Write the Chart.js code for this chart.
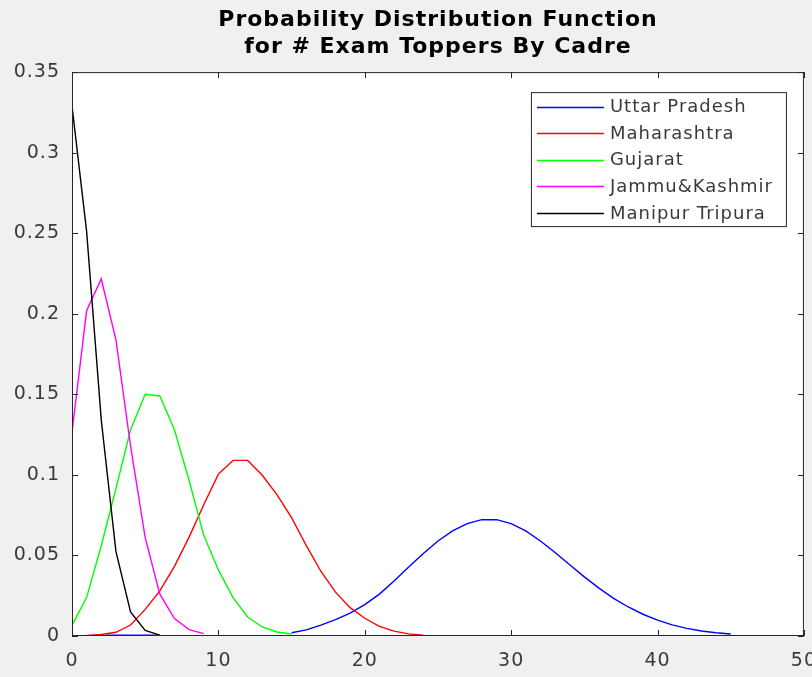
<!DOCTYPE html>
<html>
<head>
<meta charset="utf-8">
<script src="https://cdn.jsdelivr.net/npm/chart.js@4.4.1/dist/chart.umd.min.js"></script>
<style>
  html, body { margin: 0; padding: 0; background: #f0f0f0; overflow: hidden; }
  #wrap { width: 830px; height: 677px; }
</style>
</head>
<body>
<div id="wrap"><canvas id="pdf" width="830" height="677"></canvas></div>
<script>
/* values (points at integer exam-topper counts) */
const names = ['Uttar Pradesh', 'Maharashtra', 'Gujarat', 'Jammu&Kashmir', 'Manipur Tripura'];
const colors = ['#0000ff', '#ff0000', '#00ff00', '#ff00ff', '#000000'];

const upX = [2.3, 5.8, 10, 15, 16, 17, 18, 19, 20, 21, 22, 23, 24, 25, 26, 27, 28, 29, 30,
             31, 32, 33, 34, 35, 36, 37, 38, 39, 40, 41, 42, 43, 44, 45];
const upY = [0.0005, 0.0005, null, 0.002, 0.0038, 0.0068, 0.0102, 0.0142, 0.0195, 0.026, 0.0342,
             0.0428, 0.0512, 0.059, 0.0652, 0.0698, 0.0722, 0.0722, 0.0698, 0.0652, 0.059, 0.0518,
             0.0442, 0.0367, 0.0297, 0.0234, 0.018, 0.0135, 0.0098, 0.0069, 0.0047, 0.0031,
             0.002, 0.0012];

const mhX = [0, 1, 2, 3, 4, 5, 6, 7, 8, 9, 10, 11, 12, 13, 14, 15, 16, 17, 18, 19, 20, 21, 22, 23, 24];
const mhY = [0.0002, 0.0004, 0.0009, 0.0023, 0.0068, 0.0165, 0.028, 0.0432, 0.0614, 0.0815, 0.1005,
             0.109, 0.109, 0.0998, 0.0878, 0.0735, 0.0562, 0.0402, 0.0272, 0.0176, 0.011, 0.006,
             0.003, 0.0013, 0.0005];

const gjX = [0, 1, 2, 3, 4, 5, 6, 7, 8, 9, 10, 11, 12, 13, 14, 15];
const gjY = [0.0066, 0.024, 0.056, 0.0915, 0.128, 0.15, 0.149, 0.128, 0.0965, 0.0625, 0.041,
             0.0238, 0.0118, 0.0056, 0.0025, 0.0012];

const jkX = [0, 1, 2, 3, 4, 5, 6, 7, 8, 9];
const jkY = [0.1265, 0.202, 0.2216, 0.184, 0.118, 0.061, 0.026, 0.0108, 0.004, 0.0015];

const mtX = [0, 1, 2, 3, 4, 5, 6];
const mtY = [0.329, 0.251, 0.134, 0.0525, 0.015, 0.0035, 0.0005];

const xTicks = { min: 0, max: 50, step: 10 };
const yTicks = { min: 0, max: 0.35, step: 0.05 };

const titleLines = ['Probability Distribution Function', 'for # Exam Toppers By Cadre'];

const pts = (xs, ys) => xs.map((x, i) => ({ x, y: ys[i] }));
const allX = [upX, mhX, gjX, jkX, mtX];
const allY = [upY, mhY, gjY, jkY, mtY];

const INK = '#262626';
const TXT = '#3a3a3a';

/* MATLAB-style box: frame, inward ticks on four sides, boxed legend top-right */
const matlabBox = {
  id: 'matlabBox',
  beforeDraw(chart) {
    const { ctx, chartArea: a } = chart;
    ctx.letterSpacing = '1px';
    ctx.save();
    ctx.fillStyle = '#ffffff';
    ctx.fillRect(a.left, a.top, a.right - a.left, a.bottom - a.top);
    ctx.restore();
  },
  afterDatasetsDraw(chart) {
    const { ctx, chartArea: a, scales } = chart;
    ctx.save();
    ctx.strokeStyle = INK;
    ctx.lineWidth = 1;
    ctx.strokeRect(a.left + 0.5, a.top + 0.5, a.right - a.left - 1, a.bottom - a.top - 1);
    const L = 6;
    ctx.beginPath();
    scales.x.ticks.forEach(t => {
      const px = Math.round(scales.x.getPixelForValue(t.value)) + 0.5;
      ctx.moveTo(px, a.bottom); ctx.lineTo(px, a.bottom - L);
      ctx.moveTo(px, a.top); ctx.lineTo(px, a.top + L);
    });
    scales.y.ticks.forEach(t => {
      const py = Math.round(scales.y.getPixelForValue(t.value)) + 0.5;
      ctx.moveTo(a.left, py); ctx.lineTo(a.left + L, py);
      ctx.moveTo(a.right, py); ctx.lineTo(a.right - L, py);
    });
    ctx.stroke();

    // legend box
    const right = a.right - 17, top = a.top + 20, w = 256, rowH = 26.6;
    const left = right - w, h = rowH * names.length + 2;
    ctx.fillStyle = '#ffffff';
    ctx.fillRect(left, top, w, h);
    ctx.strokeStyle = INK;
    ctx.strokeRect(left + 0.5, top + 0.5, w - 1, h - 1);
    ctx.font = '18px "DejaVu Sans"';
    ctx.textBaseline = 'middle';
    ctx.textAlign = 'left';
    chart.data.datasets.forEach((ds, i) => {
      const cy = top + 14.5 + i * rowH;
      ctx.strokeStyle = ds.borderColor;
      ctx.lineWidth = 1.3;
      ctx.beginPath();
      ctx.moveTo(left + 6, Math.round(cy) + 0.5);
      ctx.lineTo(left + 73, Math.round(cy) + 0.5);
      ctx.stroke();
      ctx.fillStyle = TXT;
      ctx.fillText(ds.label, left + 79, cy + 1);
    });
    ctx.restore();
  }
};

new Chart(document.getElementById('pdf'), {
  type: 'line',
  data: {
    datasets: names.map((n, i) => ({
      label: n,
      data: pts(allX[i], allY[i]),
      borderColor: colors[i],
      backgroundColor: colors[i],
      borderWidth: 1.4,
      pointRadius: 0,
      tension: 0,
      spanGaps: false,
      order: names.length - 1 - i
    }))
  },
  options: {
    responsive: false,
    animation: false,
    devicePixelRatio: 1,
    layout: { padding: { left: 0, right: 26, top: 0, bottom: 0 } },
    plugins: {
      legend: { display: false },
      tooltip: { enabled: false },
      title: {
        display: true,
        text: titleLines,
        fullSize: false,
        color: '#000000',
        font: { family: 'DejaVu Sans', size: 22, weight: 'bold', lineHeight: 1.23 },
        padding: { top: 7, bottom: 11 }
      }
    },
    scales: {
      x: {
        type: 'linear',
        min: xTicks.min, max: xTicks.max,
        ticks: { stepSize: xTicks.step, color: TXT, padding: 14,
                 font: { family: 'DejaVu Sans', size: 19 } },
        grid: { display: false, drawTicks: false },
        border: { display: false },
        afterFit: s => { s.height = 41; }
      },
      y: {
        min: yTicks.min, max: yTicks.max,
        ticks: { stepSize: yTicks.step, color: TXT, padding: 12,
                 font: { family: 'DejaVu Sans', size: 19 },
                 callback: v => String(parseFloat(v.toFixed(2))) },
        grid: { display: false, drawTicks: false },
        border: { display: false },
        afterFit: s => { s.width = 72; }
      }
    }
  },
  plugins: [matlabBox]
});
</script>
</body>
</html>
